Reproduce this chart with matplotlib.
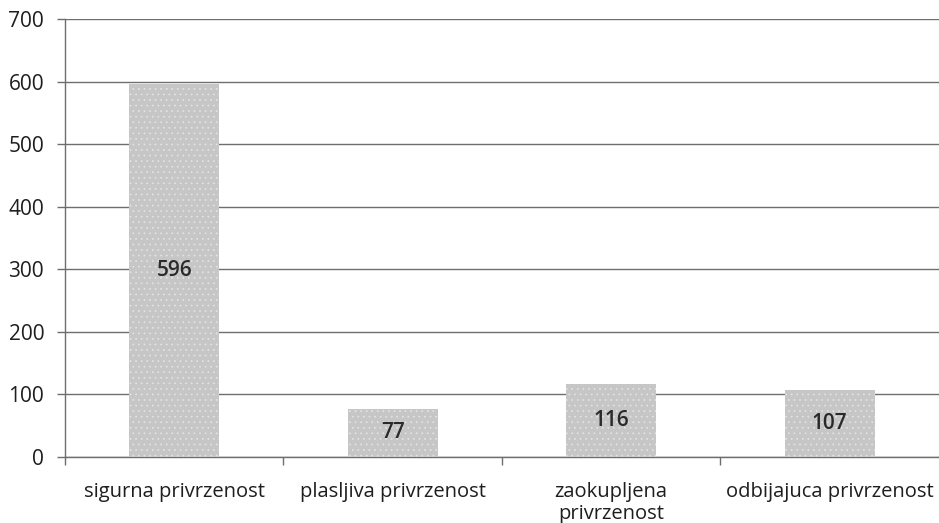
import matplotlib.pyplot as plt
import numpy as np

# Data
categories = ['sigurna privrzenost', 'plasljiva privrzenost', 'zaokupljena\nprivrzenost', 'odbijajuca privrzenost']
values = [596, 77, 116, 107]
yticks = [0, 100, 200, 300, 400, 500, 600, 700]

plt.rcParams['font.family'] = ['Open Sans', 'DejaVu Sans']
plt.rcParams['hatch.color'] = '#e4e4e4'
plt.rcParams['hatch.linewidth'] = 0.5

fig = plt.figure(figsize=(9.39, 5.23), dpi=100)
ax = fig.add_axes([0.0692, 0.1262, 0.9308, 0.8375])

x = np.arange(len(categories))
bars = ax.bar(x, values, width=0.41, color='#c6c6c6', hatch='...', edgecolor='#e4e4e4', linewidth=0, zorder=3)

for b, v in zip(bars, values):
    ax.text(b.get_x() + b.get_width() / 2, v / 2, str(v), ha='center', va='center',
            fontsize=15, fontweight='semibold', color='#2a2a2a', zorder=4)

ax.set_ylim(0, 700)
ax.set_xlim(-0.5, 3.5)
ax.set_yticks(yticks)
ax.yaxis.grid(True, color='#6e6e6e', linewidth=1)
ax.set_axisbelow(True)

ax.set_xticks(x)
ax.set_xticklabels(categories, fontsize=14.5, color='#1e1e1e', linespacing=1.15)
ax.tick_params(axis='x', length=0, pad=18)
ax.set_xticks([-0.5, 0.5, 1.5, 2.5], minor=True)
ax.tick_params(axis='x', which='minor', length=6, color='#6e6e6e', width=1)
ax.tick_params(axis='y', length=6, color='#6e6e6e', width=1, labelsize=15, labelcolor='#1e1e1e', pad=9)

for s in ['top', 'right']:
    ax.spines[s].set_visible(False)
for s in ['left', 'bottom']:
    ax.spines[s].set_color('#6e6e6e')
    ax.spines[s].set_linewidth(1)

fig.savefig('out.png', dpi=100)
